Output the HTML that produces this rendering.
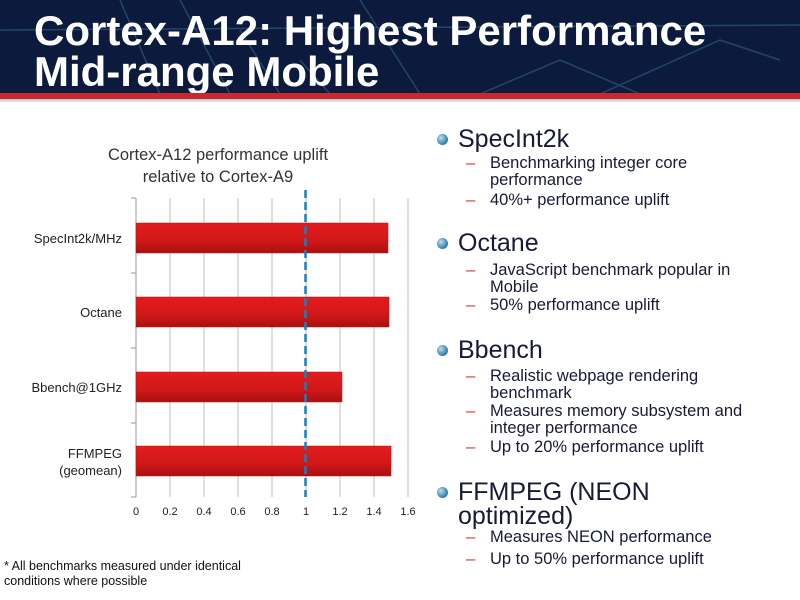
<!DOCTYPE html>
<html><head><meta charset="utf-8"><style>
body{margin:0;width:800px;height:600px;background:#fff;position:relative;overflow:hidden;font-family:"Liberation Sans",Arial,sans-serif}
.hdr{position:absolute;left:0;top:0;width:800px;height:94px;background:#0c1a3e}
.red{position:absolute;left:0;top:93px;width:800px;height:6px;background:#c8282e}
.sh{position:absolute;left:0;top:99px;width:800px;height:4px;background:linear-gradient(#bbb,#fff)}
.t{position:absolute;left:34px;top:10px;color:#fff;font-weight:bold;font-size:42px;line-height:41px;letter-spacing:0}
.b,.s{position:absolute;color:#161a38;white-space:nowrap}
.b{left:458px;font-size:25px;line-height:24px}
.b:before{content:"";position:absolute;left:-21px;top:7px;width:11px;height:11px;border-radius:50%;background:radial-gradient(circle at 35% 35%,#bde,#3f88b0 60%,#1d5a80)}
.s{left:490px;font-size:16.5px;line-height:17px}
.s:before{content:"–";position:absolute;left:-24px;top:0;color:#d03838}
.note{position:absolute;left:4px;top:559px;font-size:12.5px;line-height:15px;color:#111}
</style></head><body>
<div class="hdr"><svg width="800" height="94" style="position:absolute;left:0;top:0" stroke="#2a5a78" stroke-width="1.5" fill="none" opacity="0.7">
<path d="M120 0 L160 94"/><path d="M180 0 L230 94"/><path d="M240 30 L280 94"/><path d="M300 60 L330 94"/><path d="M0 30 L800 25"/><path d="M600 94 L720 40 L780 60"/><path d="M480 94 L560 60 L640 94"/><path d="M360 0 L420 94"/></svg>
<div class="t">Cortex-A12: Highest Performance<br>Mid-range Mobile</div></div>
<div class="red"></div><div class="sh"></div>
<svg width="440" height="500" style="position:absolute;left:0;top:100px" font-family="Liberation Sans,Arial,sans-serif">
<defs><linearGradient id="g" x1="0" y1="0" x2="0" y2="1"><stop offset="0" stop-color="#e31c1c"/><stop offset="0.6" stop-color="#d01818"/><stop offset="1" stop-color="#a81010"/></linearGradient></defs>
<text x="218" y="60" font-size="16.5" text-anchor="middle" fill="#333">Cortex-A12 performance uplift</text>
<text x="218" y="82" font-size="16.5" text-anchor="middle" fill="#333">relative to Cortex-A9</text>
<g stroke="#bfbfbf" stroke-width="1">
<line x1="170" y1="98" x2="170" y2="397"/><line x1="204" y1="98" x2="204" y2="397"/><line x1="238" y1="98" x2="238" y2="397"/><line x1="272" y1="98" x2="272" y2="397"/><line x1="306" y1="98" x2="306" y2="397"/><line x1="340" y1="98" x2="340" y2="397"/><line x1="374" y1="98" x2="374" y2="397"/><line x1="408" y1="98" x2="408" y2="397"/>
</g>
<g stroke="#999"><line x1="136" y1="98" x2="136" y2="397"/><line x1="131" y1="98" x2="136" y2="98"/><line x1="131" y1="173" x2="136" y2="173"/><line x1="131" y1="248" x2="136" y2="248"/><line x1="131" y1="323" x2="136" y2="323"/><line x1="131" y1="397" x2="136" y2="397"/></g>
<g fill="url(#g)" stroke="#c01010" stroke-width="0.5">
<rect x="136" y="123" width="252" height="30"/><rect x="136" y="197" width="253" height="30"/><rect x="136" y="272" width="206" height="30"/><rect x="136" y="346" width="255" height="30"/></g>
<line x1="305.5" y1="90" x2="305.5" y2="397" stroke="#1a7fc0" stroke-width="2.5" stroke-dasharray="8,4"/>
<g font-size="13" fill="#222" text-anchor="end">
<text x="122" y="143">SpecInt2k/MHz</text><text x="122" y="217">Octane</text><text x="122" y="292">Bbench@1GHz</text><text x="122" y="358">FFMPEG</text><text x="122" y="375">(geomean)</text></g>
<g font-size="11" fill="#222" text-anchor="middle">
<text x="136" y="415">0</text><text x="170" y="415">0.2</text><text x="204" y="415">0.4</text><text x="238" y="415">0.6</text><text x="272" y="415">0.8</text><text x="306" y="415">1</text><text x="340" y="415">1.2</text><text x="374" y="415">1.4</text><text x="408" y="415">1.6</text></g>
</svg>
<div class="note">* All benchmarks measured under identical<br>conditions where possible</div>
<div class="b" style="top:127px">SpecInt2k</div>
<div class="s" style="top:155px">Benchmarking integer core<br>performance</div>
<div class="s" style="top:192px">40%+ performance uplift</div>
<div class="b" style="top:231px">Octane</div>
<div class="s" style="top:262px">JavaScript benchmark popular in<br>Mobile</div>
<div class="s" style="top:297px">50% performance uplift</div>
<div class="b" style="top:338px">Bbench</div>
<div class="s" style="top:368px">Realistic webpage rendering<br>benchmark</div>
<div class="s" style="top:403px">Measures memory subsystem and<br>integer performance</div>
<div class="s" style="top:439px">Up to 20% performance uplift</div>
<div class="b" style="top:480px">FFMPEG (NEON<br>optimized)</div>
<div class="s" style="top:529px">Measures NEON performance</div>
<div class="s" style="top:551px">Up to 50% performance uplift</div>
</body></html>
